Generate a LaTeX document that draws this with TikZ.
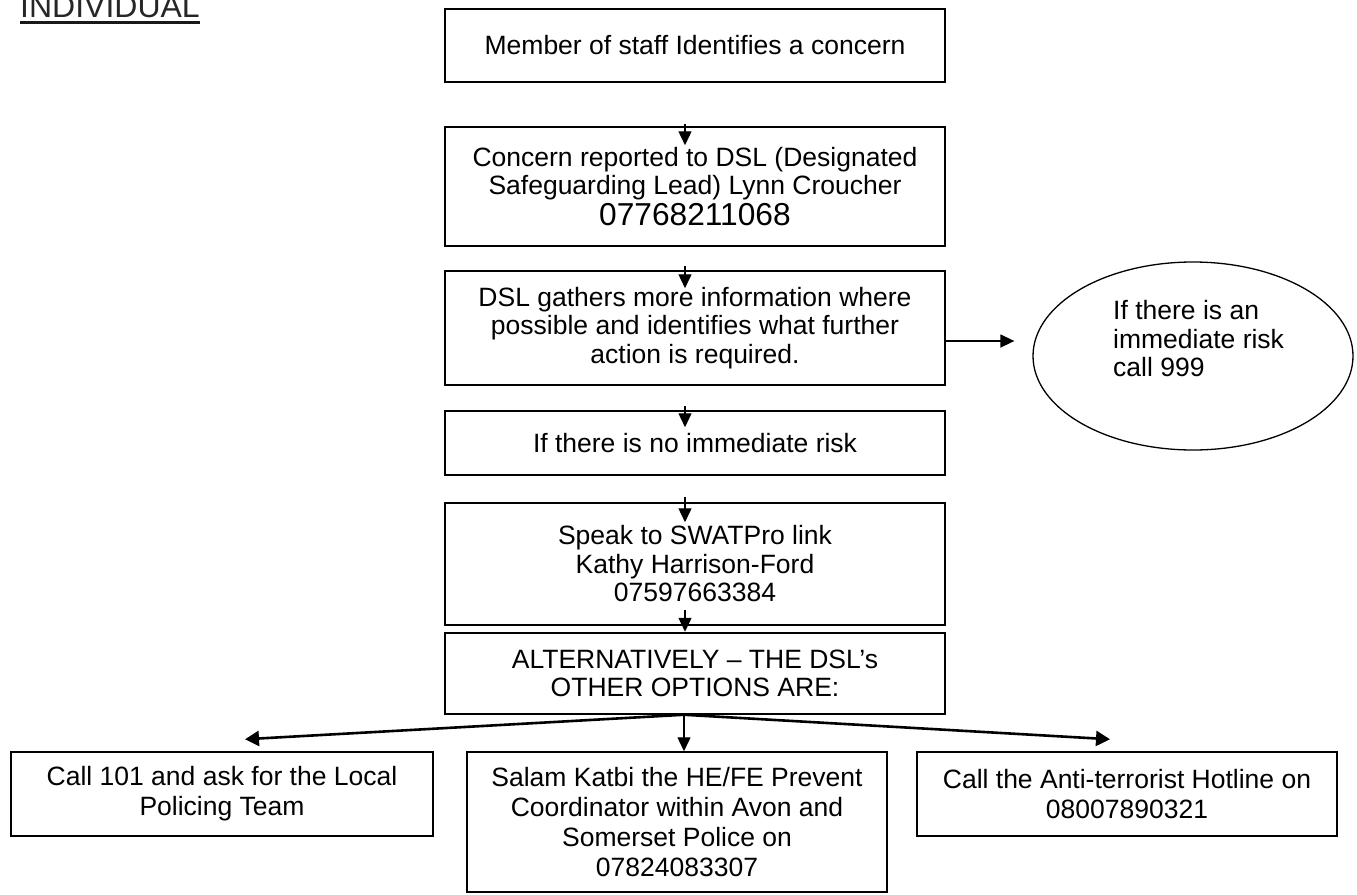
\documentclass[tikz,border=0pt]{standalone}
\usepackage{fontspec}
\setmainfont{Liberation Sans}
\usetikzlibrary{arrows.meta,shapes.geometric}
\begin{document}
\begin{tikzpicture}[x=1pt,y=-1pt,
  every node/.style={font=\fontsize{26.5}{28.5}\selectfont},
  box/.style={draw, line width=1.5pt, rectangle, inner sep=0pt, align=center, minimum width=500pt},
  lowbox/.style={box, font=\fontsize{26.5}{30}\selectfont},
  arr/.style={line width=1.4pt, -{Triangle[width=13pt,length=14pt]}},
  barr/.style={line width=2.6pt, -{Triangle[width=15pt,length=14pt]}},
  ]
\useasboundingbox (0,0) rectangle (1357,894);
% heading
\node[inner sep=0pt, anchor=base west, text=black!85, font=\fontsize{32}{36}\selectfont] (ind) at (20,17) {INDIVIDUAL};
\draw[line width=3pt, black!90] ([yshift=-5.5pt]ind.base west) -- ([yshift=-5.5pt]ind.base east);
% column boxes
\node[box, minimum height=73pt] (b1) at (695,45.5) {Member of staff Identifies a concern};
\node[box, minimum height=119pt] (b2) at (695,186.5) {Concern reported to DSL (Designated\\Safeguarding Lead) Lynn Croucher\\[2pt]{\fontsize{31.7}{34}\selectfont 07768211068}};
\node[box, minimum height=114pt] (b3) at (695,328) {DSL gathers more information where\\possible and identifies what further\\action is required.};
\node[box, minimum height=64pt] (b4) at (695,443) {If there is no immediate risk};
\node[box, minimum height=122pt] (b5) at (695,564) {Speak to SWATPro link\\Kathy Harrison-Ford\\07597663384};
\node[box, minimum height=81pt] (b6) at (695,673.5) {ALTERNATIVELY -- THE DSL’s\\OTHER OPTIONS ARE:};
% ellipse
\node[draw, ellipse, line width=1.3pt, minimum width=320pt, minimum height=188pt, inner sep=0pt] (e) at (1193,356) {};
\node[align=left, anchor=west, inner sep=0pt] (et) at (1113,339) {If there is an\\immediate risk\\call 999};
% bottom boxes
\node[lowbox, minimum width=422pt, minimum height=84pt] (bl) at (222,794) {Call 101 and ask for the Local\\Policing Team};
\node[lowbox, minimum width=420pt, minimum height=140pt] (bc) at (677,822) {Salam Katbi the HE/FE Prevent\\Coordinator within Avon and\\Somerset Police on\\07824083307};
\node[lowbox, minimum width=420pt, minimum height=84pt] (br) at (1127,794) {Call the Anti-terrorist Hotline on\\08007890321};
% arrows
\coordinate (a9s) at ([yshift=-13pt]b3.east);
\coordinate (a9e) at ([xshift=-18pt]e.west |- a9s);
\draw[arr] ([shift={(-10pt,2pt)}]b2.north) -- ++(0,21);
\draw[arr] ([shift={(-10pt,4pt)}]b3.north) -- ++(0,22);
\draw[arr] ([shift={(-10pt,4pt)}]b4.north) -- ++(0,21);
\draw[arr] ([shift={(-10pt,5pt)}]b5.north) -- ++(0,25);
\draw[arr] ([shift={(-10pt,16pt)}]b5.south) -- ++(0,22);
\draw[arr] (a9s) -- (a9e);
\draw[arr] ([xshift=-11pt]b6.south) -- ([xshift=7pt]bc.north);
\draw[barr] ([xshift=-11pt]b6.south) -- ([shift={(23pt,12pt)}]bl.north);
\draw[barr] ([xshift=-11pt]b6.south) -- ([shift={(-17pt,12pt)}]br.north);
\end{tikzpicture}
\end{document}
